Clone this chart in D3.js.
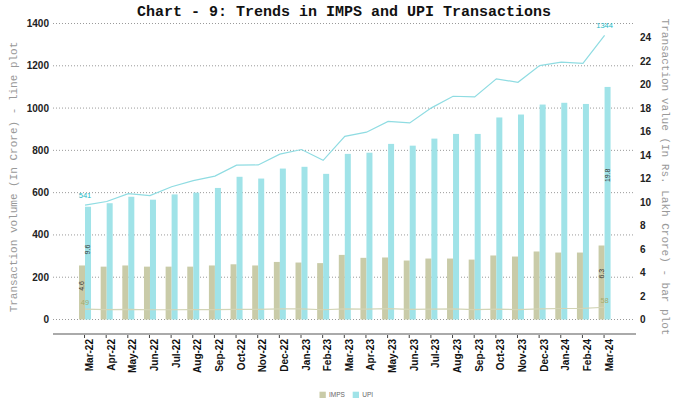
<!DOCTYPE html>
<html><head><meta charset="utf-8">
<script src="https://cdn.jsdelivr.net/npm/d3@7"></script>
<style>
body{margin:0;background:#fff;}
svg{display:block;}
</style></head>
<body>
<svg id="c" width="676" height="410"></svg>
<script>
const months = ["Mar-22","Apr-22","May-22","Jun-22","Jul-22","Aug-22","Sep-22","Oct-22","Nov-22","Dec-22","Jan-23","Feb-23","Mar-23","Apr-23","May-23","Jun-23","Jul-23","Aug-23","Sep-23","Oct-23","Nov-23","Dec-23","Jan-24","Feb-24","Mar-24"];
// Transaction value (Rs. lakh crore) - bars
const impsValue = [4.6,4.5,4.6,4.5,4.5,4.5,4.6,4.7,4.6,4.9,4.85,4.8,5.5,5.25,5.28,5.02,5.19,5.19,5.1,5.45,5.36,5.79,5.7,5.7,6.3];
const upiValue  = [9.6,9.9,10.45,10.2,10.65,10.8,11.2,12.15,12.0,12.85,13.0,12.4,14.1,14.2,14.95,14.8,15.4,15.8,15.8,17.2,17.45,18.3,18.45,18.35,19.8];
// Transaction volume (crore) - lines
const impsVolume = [49,47,48,46,46,47,47,48,48,50,50,46,50,49,51,48,49,50,47,49,47,50,52,53,58];
const upiVolume  = [541,558,595,586,628,657,678,730,731,782,804,753,866,886,937,930,1001,1056,1053,1138,1122,1201,1217,1211,1344];
const leftTicks = [0,200,400,600,800,1000,1200,1400];
const rightTicks = [0,2,4,6,8,10,12,14,16,18,20,22,24];
const seriesNames = ["IMPS","UPI"];

const svg = d3.select("#c");
const cImps = "#c9cba8", cUpi = "#a0e3e8", cUpiLine = "#8fdce2", cImpsLine = "#d2d4b6";

const x = d3.scaleBand().domain(months).range([74.2, 615.4]);
const cx = m => x(m) + x.bandwidth()/2;
const yL = d3.scaleLinear().domain([0,1400]).range([319.5,23.5]);
const yR = d3.scaleLinear().domain([0,25.2]).range([319.5,23.5]);
const bw = 6;

// gridlines
svg.append("g").selectAll("line").data(leftTicks).join("line")
  .attr("x1",53).attr("x2",634).attr("y1",d=>yL(d)).attr("y2",d=>yL(d))
  .attr("stroke","#9a9a9a").attr("stroke-width",1).attr("stroke-dasharray","1,2");

// left tick labels
svg.append("g").selectAll("text").data(leftTicks).join("text")
  .attr("x",49).attr("y",d=>yL(d)).attr("dy","0.35em").attr("text-anchor","end")
  .attr("font-family","Liberation Sans, Arial, sans-serif").attr("font-weight","bold")
  .attr("font-size",10).attr("fill","#222").text(d=>d);
// right tick labels
svg.append("g").selectAll("text").data(rightTicks).join("text")
  .attr("x",640).attr("y",d=>yR(d)).attr("dy","0.35em").attr("text-anchor","start")
  .attr("font-family","Liberation Sans, Arial, sans-serif").attr("font-weight","bold")
  .attr("font-size",10).attr("fill","#222").text(d=>d);

// bars
svg.append("g").selectAll("rect").data(months).join("rect")
  .attr("x",m=>cx(m)-bw).attr("width",bw)
  .attr("y",(m,i)=>yR(impsValue[i])).attr("height",(m,i)=>yR(0)-yR(impsValue[i]))
  .attr("fill",cImps);
svg.append("g").selectAll("rect").data(months).join("rect")
  .attr("x",m=>cx(m)).attr("width",bw)
  .attr("y",(m,i)=>yR(upiValue[i])).attr("height",(m,i)=>yR(0)-yR(upiValue[i]))
  .attr("fill",cUpi);

// lines
const line = (arr) => d3.line().x((d,i)=>cx(months[i])).y(d=>yL(d))(arr);
svg.append("path").attr("d",line(impsVolume)).attr("fill","none").attr("stroke",cImpsLine).attr("stroke-width",1.2);
svg.append("path").attr("d",line(upiVolume)).attr("fill","none").attr("stroke",cUpiLine).attr("stroke-width",1.2);

// end labels for lines
const last = months.length-1;
[[0],[last]].forEach(([i])=>{
  svg.append("text").attr("x",cx(months[i])).attr("y",yL(upiVolume[i])-7)
    .attr("text-anchor","middle").attr("font-family","Liberation Sans, Arial, sans-serif")
    .attr("font-size",7.5).attr("fill","#22b8c4").text(upiVolume[i]);
  svg.append("text").attr("x",cx(months[i])).attr("y",yL(impsVolume[i])-4)
    .attr("text-anchor","middle").attr("font-family","Liberation Sans, Arial, sans-serif")
    .attr("font-size",7.5).attr("fill","#a4ab6e").text(impsVolume[i]);
  // rotated bar labels
  [[impsValue, -bw/2],[upiValue, bw/2]].forEach(([arr,off])=>{
    const bx = cx(months[i])+off, by = yR(arr[i]*0.62);
    svg.append("text").attr("transform",`translate(${bx},${by}) rotate(-90)`)
      .attr("text-anchor","middle").attr("dy","0.35em")
      .attr("font-family","Liberation Sans, Arial, sans-serif").attr("font-size",7)
      .attr("fill","#333").text(arr[i].toFixed(1));
  });
});

// x axis line and ticks
svg.append("line").attr("x1",53).attr("x2",636).attr("y1",334).attr("y2",334)
  .attr("stroke","#aaaaaa").attr("stroke-width",2);
svg.append("g").selectAll("line").data(months).join("line")
  .attr("x1",m=>cx(m)-0.5).attr("x2",m=>cx(m)-0.5).attr("y1",335).attr("y2",338)
  .attr("stroke","#444").attr("stroke-width",1);
svg.append("g").selectAll("text").data(months).join("text")
  .attr("transform",m=>`translate(${cx(m)+4.5},339) rotate(-90)`)
  .attr("text-anchor","end").attr("dy","0.35em")
  .attr("font-family","Liberation Sans, Arial, sans-serif").attr("font-weight","bold")
  .attr("font-size",10).attr("fill","#111").text(m=>m);

// titles
svg.append("text").attr("x",344).attr("y",16).attr("text-anchor","middle")
  .attr("font-family","Liberation Mono, Courier New, monospace").attr("font-weight","bold")
  .attr("font-size",15).attr("fill","#111").text("Chart - 9: Trends in IMPS and UPI Transactions");
svg.append("text").attr("transform","translate(13,177) rotate(-90)").attr("text-anchor","middle")
  .attr("dy","0.35em").attr("font-family","Liberation Mono, Courier New, monospace")
  .attr("font-size",11).attr("fill","#999").text("Transaction volume (In Crore) - line plot");
svg.append("text").attr("transform","translate(666,177) rotate(90)").attr("text-anchor","middle")
  .attr("dy","0.35em").attr("font-family","Liberation Mono, Courier New, monospace")
  .attr("font-size",11).attr("fill","#999").text("Transaction value (In Rs. Lakh Crore) - bar plot");

// legend
const lg = svg.append("g");
const lx = [319.5, 352.7];
seriesNames.forEach((n,i)=>{
  lg.append("rect").attr("x",lx[i]).attr("y",391.7).attr("width",6.3).attr("height",6.3)
    .attr("fill", i===0?cImps:cUpi);
  lg.append("text").attr("x",lx[i]+9.5).attr("y",394.8).attr("dy","0.35em")
    .attr("font-family","Liberation Sans, Arial, sans-serif").attr("font-size",6.5)
    .attr("fill","#666").text(n);
});
</script>
</body></html>
